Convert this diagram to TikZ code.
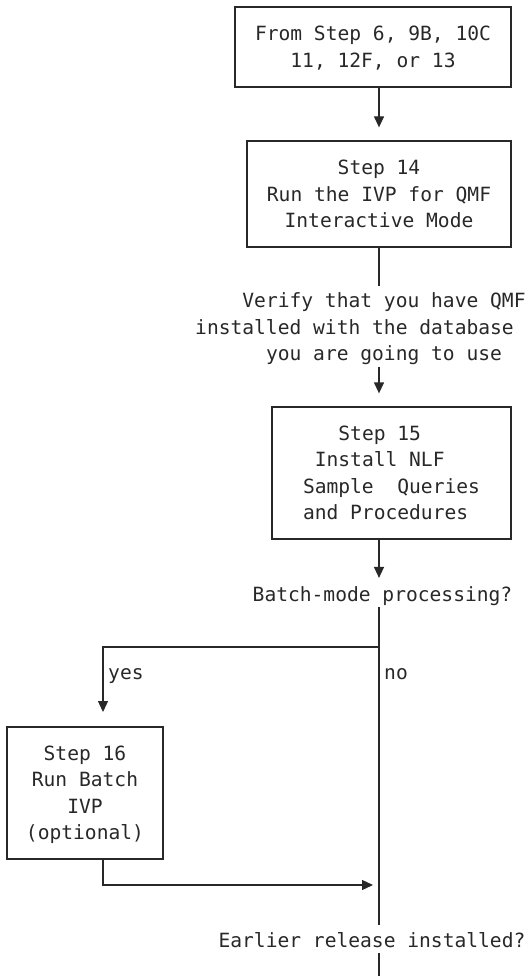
\documentclass[tikz,border=0pt]{standalone}
\usepackage{fontspec}
\setmonofont{DejaVu Sans Mono}
\usetikzlibrary{arrows.meta}
\definecolor{ink}{RGB}{40,40,40}
\newcommand\lstr{\vrule height 0.9em depth 0.17em width 0pt}
\begin{document}
\begin{tikzpicture}[x=1pt,y=-1pt,
  every node/.style={font=\ttfamily\fontsize{19.6}{26.5}\selectfont, text=ink, inner sep=0pt},
  box/.style={draw=ink, line width=1.3pt, align=center},
  ln/.style={draw=ink, line width=1.3pt},
  arr/.style={ln, -{Triangle[length=11pt,width=10pt]}}]
\useasboundingbox (0,0) rectangle (531,976);

\node[box, minimum width=276, minimum height=80] (b1) at (373,47)
  {\lstr From Step 6, 9B, 10C\\\lstr 11, 12F, or 13};
\node[box, minimum width=264, minimum height=106] (b2) at (379,194)
  {\lstr Step 14\\\lstr Run the IVP for QMF\\\lstr Interactive Mode};
\node[align=left, anchor=west] (vt) at (195,327.7)
  {\lstr\phantom{xxxx}Verify that you have QMF\\\lstr installed with the database\\\lstr\phantom{xxxxxx}you are going to use};
\node[box, align=left, minimum width=239, minimum height=132] (b3) at (391.5,473)
  {\lstr\phantom{xxx}Step 15\\\lstr\phantom{x}Install NLF\\\lstr Sample~~Queries\\\lstr and Procedures};
\node[anchor=base] (bq) at (382.5,601) {Batch-mode processing?};
\node[box, minimum width=156, minimum height=132] (b4) at (85,793)
  {\lstr Step 16\\\lstr Run Batch\\\lstr IVP\\\lstr (optional)};
\node[anchor=base west] (yes) at (108,679) {yes};
\node[anchor=base west] (no) at (384,679) {no};
\node[anchor=base] (eq) at (372,947) {Earlier release installed?};

\coordinate (br) at (379,647);
\coordinate (yin) at (103,727);
\coordinate (yout) at (103,859);
\coordinate (jn) at (379,885);
\coordinate (bot) at (379,976);

\draw[arr, shorten >=13pt] (b1.south -| b2.north) -- (b2.north);
\draw[ln, shorten >=4pt] (b2.south) -- (vt.north -| b2.south);
\draw[arr, shorten <=2pt, shorten >=13pt] (vt.south -| b2.south) -- (b3.north -| b2.south);
\draw[arr, shorten >=8pt] (b3.south -| b2.south) -- (bq.north -| b2.south);
\draw[ln, shorten <=2pt, shorten >=7pt] (bq.south -| b2.south) -- (eq.north -| b2.south);
\draw[arr, shorten >=15pt] (br) -| (yin);
\draw[arr, shorten >=6pt] (yout) |- (jn);
\draw[ln, shorten <=6pt] (eq.south -| jn) -- (bot);
\end{tikzpicture}
\end{document}
